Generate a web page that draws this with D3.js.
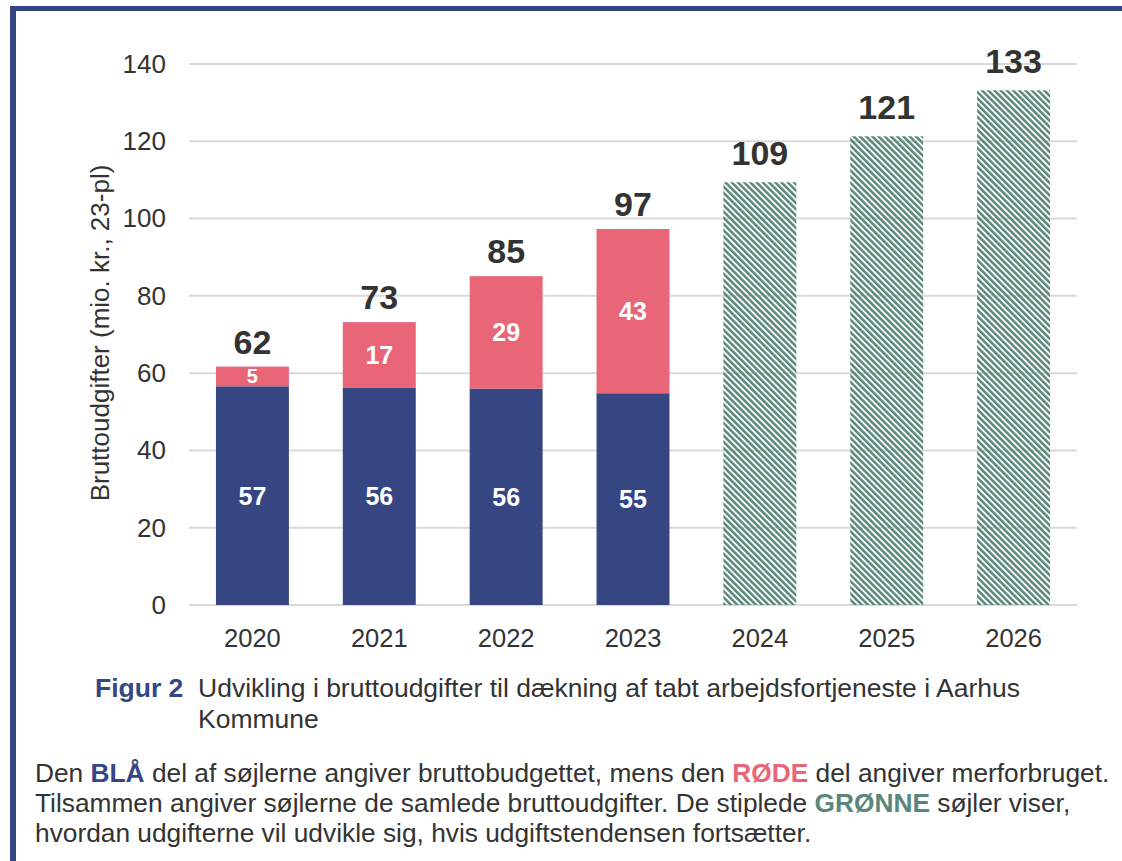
<!DOCTYPE html>
<html><head><meta charset="utf-8">
<script src="https://cdn.jsdelivr.net/npm/d3@7"></script>
<style>body{margin:0;background:#fff}svg{display:block}text{font-family:"Liberation Sans",Arial,sans-serif}</style>
</head><body><svg id="c" width="1122" height="861"></svg>
<script>
const years = ["2020","2021","2022","2023","2024","2025","2026"];
const budget = [56.6, 56.3, 56.0, 54.8];        // blue
const overspend = [5.1, 16.9, 29.1, 42.5];      // red
const projYears = ["2024","2025","2026"];
const projected = [109.4, 121.3, 133.2];        // green hatched
const yTicks = [0,20,40,60,80,100,120,140];

const svg = d3.select("#c");
const blue = "#364683", red = "#e86677", green = "#5a877b", txt = "#333333";
const FF = "Liberation Sans, Arial, sans-serif";

// frame
svg.append("rect").attr("x",10).attr("y",6).attr("width",1112).attr("height",5).attr("fill",blue);
svg.append("rect").attr("x",10).attr("y",6).attr("width",6).attr("height",855).attr("fill",blue);

const defs = svg.append("defs");
const pat = defs.append("pattern").attr("id","hatch").attr("patternUnits","userSpaceOnUse")
  .attr("width",4.4).attr("height",4.4).attr("patternTransform","rotate(-45)");
pat.append("rect").attr("x",0).attr("y",0).attr("width",2.5).attr("height",4.4).attr("fill",green);

const x = d3.scaleBand().domain(years).range([189,1077]).paddingInner(0.425).paddingOuter(0.2125);
const y = d3.scaleLinear().domain([0,140]).range([605,64]);

// grid
svg.append("g").selectAll("line").data(yTicks).join("line")
  .attr("x1",189).attr("x2",1077).attr("y1",d=>y(d)).attr("y2",d=>y(d))
  .attr("stroke","#d9d9d9").attr("stroke-width",2);

// y axis labels
const yAxis = d3.axisLeft(y).tickValues(yTicks).tickSize(0).tickPadding(23);
const gy = svg.append("g").attr("transform","translate(189,0)").call(yAxis);
gy.select(".domain").remove();
gy.selectAll("text").attr("font-size",26).attr("fill",txt).attr("font-family",FF);

const xAxis = d3.axisBottom(x).tickSize(0).tickPadding(24);
const gx = svg.append("g").attr("transform","translate(0,605)").call(xAxis);
gx.select(".domain").remove();
gx.selectAll("text").attr("font-size",25.5).attr("fill",txt).attr("font-family",FF);

svg.append("text").attr("transform","translate(109,333) rotate(-90)").attr("text-anchor","middle")
  .attr("font-size",26).attr("fill",txt).text("Bruttoudgifter (mio. kr., 23-pl)");

const hist = years.slice(0,4).map((yr,i)=>({yr, b:budget[i], r:overspend[i]}));
// blue
svg.append("g").selectAll("rect").data(hist).join("rect")
  .attr("x",d=>x(d.yr)).attr("width",x.bandwidth())
  .attr("y",d=>y(d.b)).attr("height",d=>y(0)-y(d.b)).attr("fill",blue);
// red
svg.append("g").selectAll("rect").data(hist).join("rect")
  .attr("x",d=>x(d.yr)).attr("width",x.bandwidth())
  .attr("y",d=>y(d.b+d.r)).attr("height",d=>y(d.b)-y(d.b+d.r)).attr("fill",red);
// inner labels
svg.append("g").selectAll("text").data(hist).join("text")
  .attr("x",d=>x(d.yr)+x.bandwidth()/2).attr("y",d=>y(d.b/2)+9).attr("text-anchor","middle")
  .attr("font-size",25).attr("font-weight","bold").attr("fill","#fff").text(d=>Math.round(d.b));
svg.append("g").selectAll("text").data(hist).join("text")
  .attr("x",d=>x(d.yr)+x.bandwidth()/2).attr("y",d=>y(d.b+d.r/2)+(d.r<8?7:9)).attr("text-anchor","middle")
  .attr("font-size",d=>d.r<8?20:25).attr("font-weight","bold").attr("fill","#fff").text(d=>Math.round(d.r));
// totals
svg.append("g").selectAll("text").data(hist).join("text")
  .attr("x",d=>x(d.yr)+x.bandwidth()/2).attr("y",d=>y(d.b+d.r)-13).attr("text-anchor","middle")
  .attr("font-size",34).attr("font-weight","bold").attr("fill",txt).text(d=>Math.round(d.b+d.r));

const proj = projYears.map((yr,i)=>({yr, v:projected[i]}));
svg.append("g").selectAll("rect").data(proj).join("rect")
  .attr("x",d=>x(d.yr)).attr("width",x.bandwidth())
  .attr("y",d=>y(d.v)).attr("height",d=>y(0)-y(d.v)).attr("fill","url(#hatch)");
svg.append("g").selectAll("text").data(proj).join("text")
  .attr("x",d=>x(d.yr)+x.bandwidth()/2).attr("y",d=>y(d.v)-17).attr("text-anchor","middle")
  .attr("font-size",34).attr("font-weight","bold").attr("fill",txt).text(d=>Math.round(d.v));

// caption
const cap = svg.append("text").attr("x",95).attr("y",697).attr("font-size",26.5).attr("fill",txt);
cap.append("tspan").attr("font-weight","bold").attr("fill",blue).text("Figur 2");
cap.append("tspan").attr("x",198).text("Udvikling i bruttoudgifter til dækning af tabt arbejdsfortjeneste i Aarhus");
svg.append("text").attr("x",198).attr("y",728).attr("font-size",26.5).attr("fill",txt).text("Kommune");

// note
const fs = 26.3;
const l1 = svg.append("text").attr("x",35).attr("y",782).attr("font-size",fs).attr("fill",txt);
l1.append("tspan").text("Den ");
l1.append("tspan").attr("font-weight","bold").attr("fill",blue).text("BLÅ");
l1.append("tspan").text(" del af søjlerne angiver bruttobudgettet, mens den ");
l1.append("tspan").attr("font-weight","bold").attr("fill",red).text("RØDE");
l1.append("tspan").text(" del angiver merforbruget.");
const l2 = svg.append("text").attr("x",35).attr("y",812).attr("font-size",fs).attr("fill",txt);
l2.append("tspan").text("Tilsammen angiver søjlerne de samlede bruttoudgifter. De stiplede ");
l2.append("tspan").attr("font-weight","bold").attr("fill",green).text("GRØNNE");
l2.append("tspan").text(" søjler viser,");
svg.append("text").attr("x",35).attr("y",842).attr("font-size",fs).attr("fill",txt)
  .text("hvordan udgifterne vil udvikle sig, hvis udgiftstendensen fortsætter.");
</script></body></html>
